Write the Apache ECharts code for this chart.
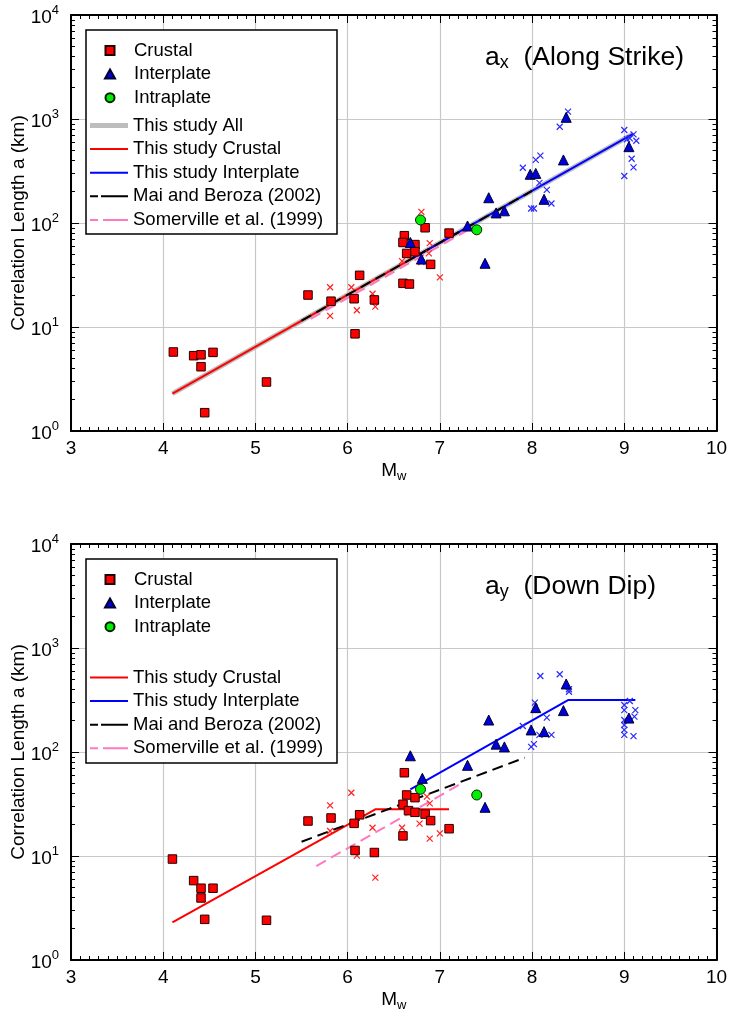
<!DOCTYPE html>
<html><head><meta charset="utf-8">
<script src="https://cdn.jsdelivr.net/npm/echarts@6/dist/echarts.min.js"></script>
<style>html,body{margin:0;padding:0;background:#fff}#c{width:732px;height:1013px}</style>
</head><body><div id="c"></div>
<script>
// ---------------- DATA ----------------
const yTickValues = [1, 10, 100, 1000, 10000];
const yMinorValues = [2,3,4,5,6,7,8,9,20,30,40,50,60,70,80,90,200,300,400,500,600,700,800,900,2000,3000,4000,5000,6000,7000,8000,9000];

// Top panel: a_x (Along Strike)
const axCrustalM = [4.11, 4.33, 4.41, 4.54, 4.41, 4.45, 5.12, 5.57, 5.82, 6.07, 6.13, 6.29, 6.08, 6.615, 6.60, 6.64, 6.73, 6.73, 6.84, 6.90, 7.10, 6.60, 6.67];
const axCrustalA = [5.75, 5.3, 5.4, 5.7, 4.15, 1.5, 2.96, 20.3, 17.7, 18.7, 31.4, 18.2, 8.6, 75.5, 65, 51, 62, 53, 90, 40, 80, 26.3, 25.9];
const axInterM = [6.68, 6.80, 7.30, 7.49, 7.53, 7.61, 7.70, 7.98, 8.04, 8.13, 8.34, 8.37, 9.05];
const axInterA = [65, 45, 93.6, 41, 175, 125, 131, 294, 300, 169, 404, 1038, 542];
const axIntraM = [6.79, 7.40];
const axIntraA = [107, 86];
const axCrossRedM = [5.81, 5.81, 6.04, 6.10, 6.27, 6.30, 6.80, 6.59, 6.89, 6.88, 7.00, 6.80];
const axCrossRedA = [24.1, 12.8, 24.1, 14.5, 20.9, 15.7, 128, 43, 64, 51, 30, 42];
const axCrossBlueM = [8.39, 8.30, 7.90, 8.04, 8.09, 8.08, 8.16, 8.21, 7.99, 8.02, 9.00, 9.06, 9.10, 9.13, 9.08, 9.10, 9.00, 9.03];
const axCrossBlueA = [1176, 843, 340, 404, 444, 243, 208, 154, 138, 138, 784, 652, 712, 618, 415, 343, 283, 638];
const axAllLineM = [4.1, 9.1];
const axAllLineA = [2.29, 724];
const axCrustalLineM = [4.1, 7.2];
const axCrustalLineA = [2.29, 81.3];
const axInterLineM = [6.7, 9.1];
const axInterLineA = [45.7, 724];
const axMaiM = [5.5, 8.0];
const axMaiA = [11.5, 204];
const axSomM = [5.6, 7.3];
const axSomA = [12.0, 85];

// Bottom panel: a_y (Down Dip)
const ayCrustalM = [4.10, 4.33, 4.41, 4.54, 4.41, 4.45, 5.12, 5.57, 5.82, 6.07, 6.13, 6.08, 6.29, 6.615, 6.64, 6.73, 6.60, 6.66, 6.73, 6.84, 6.90, 7.10, 6.60];
const ayCrustalA = [9.35, 5.8, 4.9, 4.9, 3.95, 2.46, 2.41, 21.7, 23.2, 20.6, 24.9, 11.3, 10.8, 63.2, 38.6, 36.4, 31.4, 27.3, 26.3, 25.3, 21.9, 18.3, 15.6];
const ayInterM = [6.68, 6.81, 7.30, 7.49, 7.53, 7.61, 7.70, 7.99, 8.04, 8.13, 8.34, 8.37, 9.05];
const ayInterA = [92, 55.8, 74.5, 29.4, 203, 119, 112, 163, 267, 157, 250, 451, 212];
const ayIntraM = [6.79, 7.40];
const ayIntraA = [43.8, 38.6];
const ayCrossRedM = [6.04, 5.81, 5.81, 6.27, 6.30, 6.10, 6.59, 6.86, 6.89, 6.78, 6.89, 7.00];
const ayCrossRedA = [40.6, 30.7, 17.4, 18.7, 6.2, 10.1, 18.7, 37.2, 32.1, 20.5, 14.7, 16.5];
const ayCrossBlueM = [8.09, 8.30, 8.40, 8.40, 8.03, 8.16, 7.90, 8.08, 8.21, 7.99, 8.02, 9.00, 9.00, 9.00, 9.00, 9.00, 9.00, 9.06, 9.12, 9.11, 9.10];
const ayCrossBlueA = [538, 559, 401, 380, 298, 214, 178, 146, 146, 112, 119, 283, 253, 203, 182, 163, 146, 309, 253, 219, 142];
const ayCrustalLineM = [4.1, 6.3, 7.1];
const ayCrustalLineA = [2.3, 28.1, 28.1];
const ayInterLineM = [6.68, 8.39, 9.12];
const ayInterLineA = [43.8, 316, 316];
const ayMaiM = [5.5, 7.92];
const ayMaiA = [13.7, 88];
const aySomM = [5.66, 7.22];
const aySomA = [8.0, 49];

// ---------------- CHART ----------------
const FONT = "'Liberation Sans', Arial, Helvetica, sans-serif";
const pts = (ms, as) => ms.map((m, i) => [m, as[i]]);
const CROSS = 'path://M0,0L10,10M10,0L0,10';

const grids = [
  {left: 71, top: 15, width: 645.5, height: 416, containLabel: false, outerBoundsMode: 'none'},
  {left: 71, top: 544, width: 645.5, height: 416, containLabel: false, outerBoundsMode: 'none'}
];

function xAxesFor(g) {
  const common = {
    gridIndex: g, type: 'value', min: 3, max: 10, interval: 1,
    axisLine: {show: true, onZero: false, lineStyle: {color: '#000', width: 2}},
    axisTick: {show: true, inside: true, length: 8, lineStyle: {color: '#000', width: 1}},
    minorTick: {show: true, splitNumber: 10, length: 4, lineStyle: {color: '#000', width: 1}}
  };
  return [
    Object.assign({}, common, {
      position: 'bottom',
      axisLabel: {color: '#000', fontSize: 19, margin: 8, fontFamily: FONT, hideOverlap: false},
      splitLine: {show: true, lineStyle: {color: '#c8c8c8', width: 1.2}},
      name: '{m|M}{w|w}', nameLocation: 'middle', nameGap: 27, nameMoveOverlap: false,
      nameTextStyle: {color: '#000', fontFamily: FONT, rich: {
        m: {fontSize: 19, fontFamily: FONT, color: '#000'},
        w: {fontSize: 13, fontFamily: FONT, color: '#000', padding: [12, 0, 0, 0]}
      }}
    }),
    Object.assign({}, common, {
      position: 'top', axisLabel: {show: false}, splitLine: {show: false}
    })
  ];
}

function yAxesFor(g) {
  const base = {gridIndex: g, type: 'log', logBase: 10, min: 1, max: 10000};
  return [
    Object.assign({}, base, {
      position: 'left',
      axisLine: {show: true, onZero: false, lineStyle: {color: '#000', width: 2}},
      axisTick: {show: true, inside: true, length: 8, customValues: yTickValues, lineStyle: {color: '#000', width: 1}},
      axisLabel: {
        customValues: yTickValues, margin: 12, color: '#000', fontFamily: FONT,
        formatter: v => '{b|10}{s|' + Math.round(Math.log10(v)) + '}',
        rich: {
          b: {fontSize: 19, fontFamily: FONT, color: '#000', padding: [5, 0, 0, 0]},
          s: {fontSize: 13, fontFamily: FONT, color: '#000', padding: [0, 0, 10, 0]}
        }
      },
      splitLine: {show: true, lineStyle: {color: '#c8c8c8', width: 1.2}},
      name: 'Correlation Length a (km)', nameLocation: 'middle', nameGap: 43, nameMoveOverlap: false,
      nameTextStyle: {color: '#000', fontSize: 19, fontFamily: FONT}
    }),
    Object.assign({}, base, {
      position: 'left', axisLine: {show: false}, axisLabel: {show: false}, splitLine: {show: false},
      axisTick: {show: true, inside: true, length: 4, customValues: yMinorValues, lineStyle: {color: '#000', width: 1}}
    }),
    Object.assign({}, base, {
      position: 'right', axisLine: {show: true, onZero: false, lineStyle: {color: '#000', width: 2}},
      axisLabel: {show: false}, splitLine: {show: false},
      axisTick: {show: true, inside: true, length: 8, customValues: yTickValues, lineStyle: {color: '#000', width: 1}}
    }),
    Object.assign({}, base, {
      position: 'right', axisLine: {show: false}, axisLabel: {show: false}, splitLine: {show: false},
      axisTick: {show: true, inside: true, length: 4, customValues: yMinorValues, lineStyle: {color: '#000', width: 1}}
    })
  ];
}

function lineS(name, g, ms, as, color, width, type, z) {
  return {
    name: name, type: 'line', xAxisIndex: g * 2, yAxisIndex: g * 4,
    data: pts(ms, as), symbol: 'none', silent: true, z: z,
    lineStyle: {color: color, width: width, type: type || 'solid'},
    itemStyle: {color: color}
  };
}
function scatS(name, g, ms, as, symbol, size, fill, border, bw, z) {
  return {
    name: name, type: 'scatter', xAxisIndex: g * 2, yAxisIndex: g * 4,
    data: pts(ms, as), symbol: symbol, symbolSize: size, silent: true, z: z,
    itemStyle: {color: fill, borderColor: border, borderWidth: bw, opacity: 1}
  };
}

const RED = '#ff0000', BLUE = '#0000ff', PINK = '#ff78c0', GRAY = '#bdbdbd';
const DASH = [11, 6];

const series = [
  // top panel lines
  lineS('This study All', 0, axAllLineM, axAllLineA, GRAY, 5, 'solid', 2),
  lineS('This study Crustal', 0, axCrustalLineM, axCrustalLineA, RED, 2, 'solid', 3),
  lineS('This study Interplate', 0, axInterLineM, axInterLineA, BLUE, 2, 'solid', 3),
  lineS('Somerville et al. (1999)', 0, axSomM, axSomA, PINK, 2, DASH, 3),
  lineS('Mai and Beroza (2002)', 0, axMaiM, axMaiA, '#000', 2, DASH, 3),
  // top panel points
  scatS('crx', 0, axCrossRedM, axCrossRedA, CROSS, 6, 'rgba(0,0,0,0)', '#ff2020', 1.2, 4),
  scatS('cbx', 0, axCrossBlueM, axCrossBlueA, CROSS, 6, 'rgba(0,0,0,0)', '#2a2aff', 1.2, 4),
  scatS('Crustal', 0, axCrustalM, axCrustalA, 'rect', 8.5, RED, '#200000', 1, 5),
  scatS('Interplate', 0, axInterM, axInterA, 'triangle', 10, '#0000d8', '#000030', 1, 6),
  scatS('Intraplate', 0, axIntraM, axIntraA, 'circle', 10, '#00ee00', '#002000', 1, 7),
  // bottom panel lines
  lineS('This study Crustal', 1, ayCrustalLineM, ayCrustalLineA, RED, 2, 'solid', 3),
  lineS('This study Interplate', 1, ayInterLineM, ayInterLineA, BLUE, 2, 'solid', 3),
  lineS('Somerville et al. (1999)', 1, aySomM, aySomA, PINK, 2, DASH, 3),
  lineS('Mai and Beroza (2002)', 1, ayMaiM, ayMaiA, '#000', 2, DASH, 3),
  // bottom panel points
  scatS('crx', 1, ayCrossRedM, ayCrossRedA, CROSS, 6, 'rgba(0,0,0,0)', '#ff2020', 1.2, 4),
  scatS('cbx', 1, ayCrossBlueM, ayCrossBlueA, CROSS, 6, 'rgba(0,0,0,0)', '#2a2aff', 1.2, 4),
  scatS('Crustal', 1, ayCrustalM, ayCrustalA, 'rect', 8.5, RED, '#200000', 1, 5),
  scatS('Interplate', 1, ayInterM, ayInterA, 'triangle', 10, '#0000d8', '#000030', 1, 6),
  scatS('Intraplate', 1, ayIntraM, ayIntraA, 'circle', 10, '#00ee00', '#002000', 1, 7)
];

// legend icon shapes (drawn inside the 38x9 legend icon box)
const ICON = {
  'Crustal': 'path://M0,0h10v10h-10z',
  'Interplate': 'path://M5,0L10,9L0,9Z',
  'Intraplate': 'circle',
  'This study All': 'path://M0,0h38v5h-38z',
  'This study Crustal': 'path://M0,0h38v2h-38z',
  'This study Interplate': 'path://M0,0h38v2h-38z',
  'Mai and Beroza (2002)': 'path://M0,0h8v2h-8z M11,0h27v2h-27z',
  'Somerville et al. (1999)': 'path://M0,0h8v2h-8z M13,0h25v2h-25z'
};

function legendBlock(left, top, names) {
  return {
    show: true, orient: 'vertical', left: left, top: top, padding: 0,
    itemWidth: 38, itemHeight: 9, itemGap: 4.6, selectedMode: false,
    symbolKeepAspect: true,
    data: names.map(n => ({name: n, icon: ICON[n]})), z: 10,
    textStyle: {color: '#000', fontSize: 18.5, lineHeight: 18, fontFamily: FONT}
  };
}

const legends = [
  legendBlock(104, 41, ['Crustal', 'Interplate', 'Intraplate']),
  legendBlock(90, 116, ['This study All', 'This study Crustal', 'This study Interplate', 'Mai and Beroza (2002)', 'Somerville et al. (1999)']),
  legendBlock(104, 570, ['Crustal', 'Interplate', 'Intraplate']),
  legendBlock(90, 668, ['This study Crustal', 'This study Interplate', 'Mai and Beroza (2002)', 'Somerville et al. (1999)'])
];

function titleText(top, main, sub, rest) {
  return {
    type: 'text', left: 485, top: top, z: 20,
    style: {
      text: '{a|' + main + '}{s|' + sub + '}{t|' + rest + '}',
      rich: {
        a: {fontSize: 26.5, fontFamily: FONT, fill: '#000', color: '#000'},
        s: {fontSize: 18, fontFamily: FONT, fill: '#000', color: '#000', padding: [12, 0, 0, 0]},
        t: {fontSize: 26.5, fontFamily: FONT, fill: '#000', color: '#000'}
      }
    }
  };
}

const graphic = [
  {type: 'rect', z: 5, shape: {x: 86, y: 30, width: 251, height: 204}, style: {fill: '#fff', stroke: '#000', lineWidth: 1.5}},
  {type: 'rect', z: 5, shape: {x: 86, y: 559, width: 251, height: 204}, style: {fill: '#fff', stroke: '#000', lineWidth: 1.5}},
  titleText(44, 'a', 'x', '  (Along Strike)'),
  titleText(573, 'a', 'y', '  (Down Dip)')
];

const chart = echarts.init(document.getElementById('c'), null, {renderer: 'canvas'});
chart.setOption({
  animation: false,
  backgroundColor: '#fff',
  textStyle: {fontFamily: FONT},
  grid: grids,
  xAxis: xAxesFor(0).concat(xAxesFor(1)),
  yAxis: yAxesFor(0).concat(yAxesFor(1)),
  legend: legends,
  graphic: graphic,
  series: series
});
</script></body></html>
